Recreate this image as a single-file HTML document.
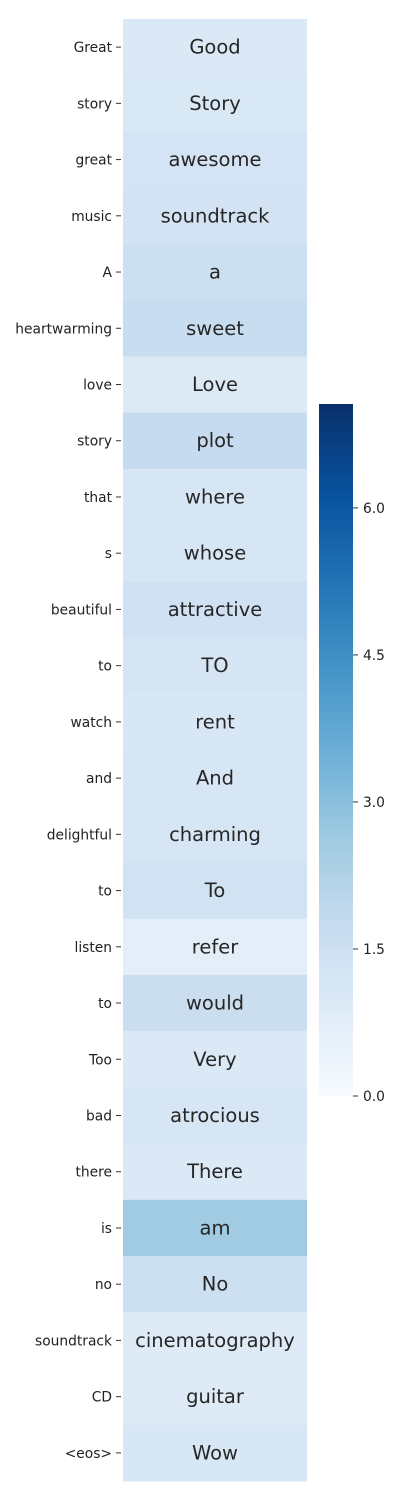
<!DOCTYPE html>
<html><head><meta charset="utf-8"><style>
body{margin:0;background:#fff;}
svg text{font-family:"DejaVu Sans","Liberation Sans",sans-serif;}
</style></head><body>
<svg id="chart" width="400" height="1500" xmlns="http://www.w3.org/2000/svg">
<defs><linearGradient id="cbg" x1="0" y1="1" x2="0" y2="0">
<stop offset="0" stop-color="#f7fbff"/><stop offset="0.125" stop-color="#deebf7"/><stop offset="0.25" stop-color="#c6dbef"/><stop offset="0.375" stop-color="#9ecae1"/><stop offset="0.5" stop-color="#6baed6"/><stop offset="0.625" stop-color="#4292c6"/><stop offset="0.75" stop-color="#2171b5"/><stop offset="0.875" stop-color="#08519c"/><stop offset="1" stop-color="#08306b"/>
</linearGradient></defs>
<g id="cells"></g><g id="ylabels"></g>
<g id="cbar"></g>
</svg>
<script>
const rowLabels=["Great","story","great","music","A","heartwarming","love","story","that","s","beautiful","to","watch","and","delightful","to","listen","to","Too","bad","there","is","no","soundtrack","CD","<eos>"];
const cellWords=["Good","Story","awesome","soundtrack","a","sweet","Love","plot","where","whose","attractive","TO","rent","And","charming","To","refer","would","Very","atrocious","There","am","No","cinematography","guitar","Wow"];
const values=[1.0,1.05,1.25,1.3,1.5,1.65,0.95,1.75,1.15,1.15,1.45,1.2,1.1,1.15,1.15,1.35,0.7,1.6,1.0,1.15,1.0,2.6,1.5,0.9,0.9,1.1];
const cbTicks=[0,1.5,3,4.5,6];
const vmax=7.06;
const stops=["#f7fbff","#deebf7","#c6dbef","#9ecae1","#6baed6","#4292c6","#2171b5","#08519c","#08306b"];
function hex(h){return [1,3,5].map(i=>parseInt(h.substr(i,2),16));}
function color(v){let f=Math.max(0,Math.min(1,v/vmax))*8;let i=Math.min(7,Math.floor(f));let t=f-i;let a=hex(stops[i]),b=hex(stops[i+1]);return "rgb("+a.map((x,k)=>Math.round(x+(b[k]-x)*t)).join(",")+")";}
const NS="http://www.w3.org/2000/svg";
const X0=123,X1=307,Y0=19,Y1=1481;
const rh=(Y1-Y0)/values.length;
const yRow=i=>Y0+i*rh;
function el(t,a,p){const e=document.createElementNS(NS,t);for(const k in a)e.setAttribute(k,a[k]);p.appendChild(e);return e;}
const cells=document.getElementById("cells"),yl=document.getElementById("ylabels");
values.forEach((v,i)=>{
 const r=el("rect",{x:X0,y:yRow(i),width:X1-X0,height:rh+0.5,fill:color(v)},cells);
 
 
 const t=el("text",{x:(X0+X1)/2,y:yRow(i)+rh/2+6.5,"text-anchor":"middle","font-size":"19.5",fill:"#262626"},cells);
 t.textContent=cellWords[i];
 
 
 const tk=el("line",{x1:116,x2:121,y1:yRow(i)+rh/2,y2:yRow(i)+rh/2,stroke:"#333"},yl);
 
 
 const lb=el("text",{x:112,y:yRow(i)+rh/2+5,"text-anchor":"end","font-size":"13.8",fill:"#222"},yl);
 lb.textContent=rowLabels[i];
 
 
});
const cb=document.getElementById("cbar");
const CB0=1096,CB1=404,cx0=319,cx1=353;
const cy=v=>CB0-(v/vmax)*(CB0-CB1);
const bar=el("rect",{x:cx0,y:CB1,width:cx1-cx0,height:CB0-CB1,fill:"url(#cbg)"},cb);


cbTicks.forEach(v=>{
 const l=el("line",{x1:cx1,x2:cx1+5,y1:cy(v),y2:cy(v),stroke:"#333"},cb);
 
 
 const t=el("text",{x:cx1+10,y:cy(v)+5,"font-size":"13.8",fill:"#222"},cb);
 t.textContent=v.toFixed(1);
 
 
});
</script>
</body></html>
